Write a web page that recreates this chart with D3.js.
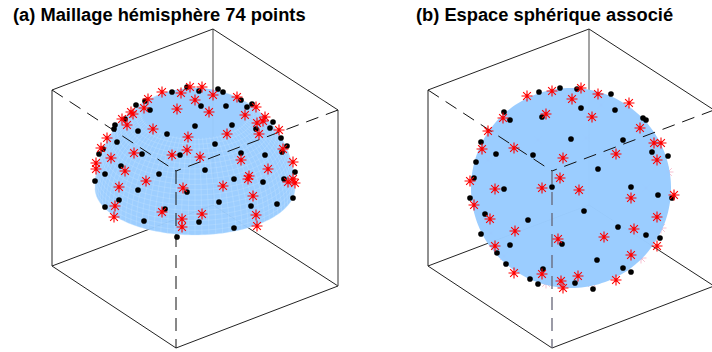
<!DOCTYPE html>
<html><head><meta charset="utf-8">
<script src="https://cdn.jsdelivr.net/npm/d3@7/dist/d3.min.js"></script>
<style>html,body{margin:0;padding:0;background:#fff;overflow:hidden}svg{display:block}</style>
</head><body><svg id="c" width="712" height="352"></svg>
<script>
// Values are view-plane coordinates: [u, v]
const titleA = "(a) Maillage hémisphère 74 points";
const titleB = "(b) Espace sphérique associé";
const boxVertices = {topBack:[161,319],topLeft:[0,258],topRight:[286,238],topFront:[124,177],
  botLeft:[0,82],botRight:[286,62],botFront:[124,0],botBack:[161,143]};
const solidEdges = [["topLeft","topBack"],["topBack","topRight"],["topLeft","botLeft"],["botLeft","botFront"],["botFront","botRight"]];
const greyEdges = [["topRight","botRight"]];
const hiddenEdges = [["topBack","botBack"],["botBack","botLeft"],["botBack","botRight"]];
const dashedEdges = [["topLeft","topFront"],["topRight","topFront"]];
const frontEdge = [["topFront","botFront"]];
const surfaceCentre = [143,160];
const surfaceRadius = 100;
const hemiTilt = 28;

const hemiDots = [[135,261],[120,256],[147,257],[166,259],[171,256],[93,247],[84,243],[98,238],[149,242],[174,242],[189,248],[200,244],[195,241],[73,229],[63,223],[62,219],[143,222],[180,223],[221,226],[218,220],[204,219],[86,217],[115,214],[65,206],[51,199],[47,194],[163,204],[90,194],[128,193],[189,195],[213,193],[235,202],[230,196],[229,210],[69,182],[53,174],[107,174],[153,178],[43,167],[182,169],[211,166],[232,169],[86,158],[135,156],[67,148],[53,141],[167,146],[199,142],[225,144],[241,150],[113,139],[92,127],[147,126],[182,120],[125,111],[243,176]];
const hemiStars = [[110,256],[129,255],[150,261],[138,261],[161,253],[185,251],[204,241],[143,248],[96,249],[92,240],[79,236],[81,234],[125,239],[157,236],[193,233],[213,231],[211,227],[205,225],[70,229],[75,223],[101,219],[227,218],[207,214],[175,214],[136,211],[55,210],[49,200],[135,198],[82,195],[120,193],[148,191],[59,190],[231,199],[241,186],[189,188],[44,185],[44,179],[73,177],[216,179],[197,172],[94,167],[196,169],[241,169],[236,166],[243,165],[67,161],[131,160],[171,162],[201,152],[63,142],[62,131],[110,136],[150,134],[130,129],[130,121],[204,133],[205,122]];
const sphereDots = [[111,256],[132,260],[149,259],[183,254],[76,236],[82,228],[114,231],[153,240],[187,238],[215,230],[218,228],[143,209],[195,208],[53,206],[68,194],[105,193],[224,196],[240,192],[170,179],[48,186],[46,170],[76,159],[124,161],[203,161],[230,153],[244,150],[42,150],[156,137],[57,134],[100,128],[190,121],[218,113],[53,114],[232,110],[134,104],[82,103],[69,95],[169,88],[78,84],[115,79],[195,80],[203,76],[102,69],[110,64],[147,65],[165,59]];
const sphereStars = [[99,252],[124,257],[153,260],[170,254],[201,245],[144,249],[118,234],[75,230],[164,231],[212,220],[60,217],[54,199],[86,200],[226,205],[233,205],[188,194],[135,190],[229,188],[132,170],[42,167],[67,159],[114,160],[151,158],[203,150],[246,153],[46,143],[62,129],[229,131],[87,117],[206,119],[130,109],[176,111],[67,102],[229,102],[203,93],[86,75],[114,74],[150,72],[188,68],[133,67],[135,60]];
const sphereHiddenStars = [[138,246],[155,251],[173,243],[85,225],[110,208],[158,210],[60,188],[198,205],[63,115],[233,120],[76,92],[213,90],[125,92],[164,65],[118,65],[240,176],[218,160]];

const svg = d3.select("#c");
const yScale = d3.scaleLinear().domain([0,319]).range([348,29]);
const starType = {draw(ctx,size){const r=Math.sqrt(size);
  for(let i=0;i<4;i++){const a=i*Math.PI/4,dx=r*Math.cos(a),dy=r*Math.sin(a);ctx.moveTo(-dx,-dy);ctx.lineTo(dx,dy);}
  const c=r*0.22;ctx.moveTo(c,0);ctx.arc(0,0,c,0,2*Math.PI);}};
const starPath = d3.symbol().type(starType).size(30)();
const dotPath = d3.symbol().type(d3.symbolCircle).size(25)();

function panel(left, titleText, titleX, dots, stars, hiddenStars, isHemi){
  const xScale = d3.scaleLinear().domain([0,286]).range([left,left+286]);
  const g = svg.append("g");
  const line = d3.line().x(d=>xScale(d[0])).y(d=>yScale(d[1]));
  const edges = (list,stroke,dash,w)=>g.append("g").selectAll("path").data(list).join("path")
    .attr("d",e=>line([boxVertices[e[0]],boxVertices[e[1]]])).attr("fill","none")
    .attr("stroke",stroke).attr("stroke-width",w).attr("stroke-dasharray",dash);
  edges(hiddenEdges.slice(0,1),"#666",null,1.2);
  edges(hiddenEdges.slice(1),"#222",null,1);
  edges(solidEdges,"#222",null,1);
  edges(greyEdges,"#555",null,1.2);
  const cx=xScale(surfaceCentre[0]), cy=yScale(surfaceCentre[1]);
  if(hiddenStars.length){
    g.append("g").selectAll("path").data(hiddenStars).join("path")
     .attr("d",starPath).attr("transform",d=>`translate(${xScale(d[0])},${yScale(d[1])})`)
     .attr("fill","none").attr("stroke","#e8527a").attr("stroke-width",0.8).attr("opacity",0.45);
  }
  const proj = d3.geoOrthographic().rotate([0,isHemi?-hemiTilt:0]).scale(surfaceRadius).translate([cx,cy]).precision(0.3);
  const geo = d3.geoPath(proj);
  if(isHemi){
    const cap = d3.geoCircle().center([0,90]).radius(90)();
    g.append("path").attr("d",geo(cap)).attr("fill","#99ccff").attr("fill-opacity",0.96);
    const mesh = d3.geoGraticule().extent([[-180,0],[180.01,58]]).step([4,3])();
    g.append("path").attr("d",geo(mesh)).attr("fill","none").attr("stroke","#c6e2ff").attr("stroke-width",0.5).attr("stroke-opacity",0.65);
  } else {
    g.append("path").attr("d",geo({type:"Sphere"})).attr("fill","#99ccff").attr("fill-opacity",0.985);
  }
  edges(dashedEdges,"#111","13 8",1);
  edges(frontEdge,isHemi?"#111":"#667","13 8",isHemi?1:1.3);
  g.append("g").selectAll("path").data(dots).join("path")
    .attr("d",dotPath).attr("transform",d=>`translate(${xScale(d[0])},${yScale(d[1])})`).attr("fill","#000");
  g.append("g").selectAll("path").data(stars).join("path")
    .attr("d",starPath).attr("transform",d=>`translate(${xScale(d[0])},${yScale(d[1])})`)
    .attr("fill","none").attr("stroke","#ff0000").attr("stroke-width",1.1);
  svg.append("text").attr("x",titleX).attr("y",20.5).text(titleText)
    .attr("font-family","'Liberation Sans',Arial,sans-serif").attr("font-weight","bold").attr("font-size",18.3).attr("fill","#000");
}
panel(52,titleA,13,hemiDots,hemiStars,[],true);
panel(428,titleB,416,sphereDots,sphereStars,sphereHiddenStars,false);
</script></body></html>
